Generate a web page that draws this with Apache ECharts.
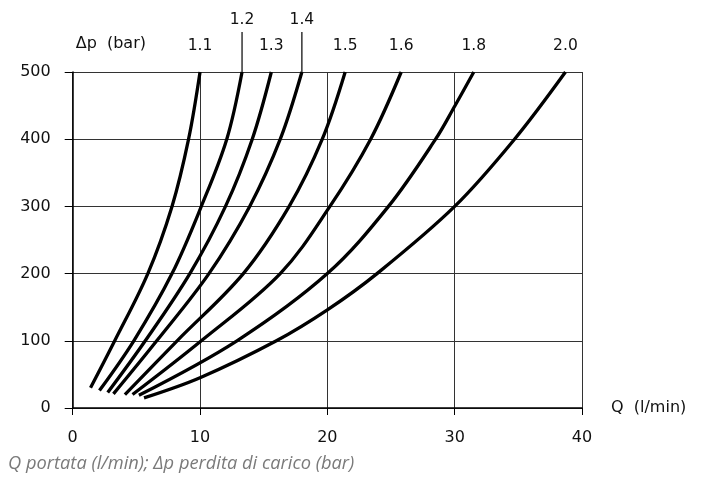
<!DOCTYPE html>
<html>
<head>
<meta charset="utf-8">
<script src="https://cdn.jsdelivr.net/npm/echarts@6/dist/echarts.min.js"></script>
<style>
  html, body { margin: 0; padding: 0; background: #fff; }
  #chart { width: 707px; height: 482px; }
</style>
</head>
<body>
<div id="chart"></div>
<script>
// curve labels (Δp setting, bar)
var pressures = ['1.1', '1.2', '1.3', '1.4', '1.5', '1.6', '1.8', '2.0'];

// [Q (l/min), Δp (bar)]
var curve11 = [[1.4, 30], [3.3, 100], [5.9, 200], [7.8, 300], [9.1, 400], [10.0, 500]];
var curve12 = [[2.1, 26], [4.8, 100], [7.8, 200], [10.1, 300], [12.1, 400], [13.3, 500]];
var curve13 = [[2.75, 23], [5.7, 100], [9.2, 200], [12.0, 300], [14.1, 400], [15.6, 500]];
var curve14 = [[3.2, 21], [6.6, 100], [10.7, 200], [13.9, 300], [16.3, 400], [18.0, 500]];
var curve15 = [[4.1, 20], [8.2, 100], [13.4, 200], [17.0, 300], [19.6, 400], [21.4, 500]];
var curve16 = [[4.7, 20], [10.1, 100], [16.3, 200], [20.2, 300], [23.4, 400], [25.8, 500]];
var curve18 = [[5.2, 19], [12.9, 100], [20.0, 200], [24.8, 300], [28.5, 400], [30.0, 449], [31.5, 500]];
var curve20 = [[5.6, 15], [10.0, 45], [16.0, 100], [20.0, 146], [23.9, 200], [30.0, 300], [34.7, 400], [38.7, 500]];

var curves = [curve11, curve12, curve13, curve14, curve15, curve16, curve18, curve20];
// labels that sit higher with a leader line
var raisedLabels = ['1.2', '1.4'];

var xTicks = [0, 10, 20, 30, 40];
var yTicks = [0, 100, 200, 300, 400, 500];

var font = 'DejaVu Sans';
var myChart = echarts.init(document.getElementById('chart'));

var series = curves.map(function (pts, i) {
    var name = pressures[i];
    var last = pts[pts.length - 1];
    var raised = raisedLabels.indexOf(name) >= 0;
    var h = raised ? 40 : 14;
    return {
        name: name,
        type: 'line',
        data: pts,
        smooth: 0.35,
        showSymbol: false,
        symbol: 'none',
        silent: true,
        lineStyle: { color: '#000', width: 3.3 },
        markPoint: {
            silent: true,
            animation: false,
            symbol: 'rect',
            symbolSize: [1.2, h],
            symbolOffset: [0, -h / 2],
            itemStyle: { color: raised ? '#000' : 'rgba(0,0,0,0)' },
            label: {
                show: true,
                position: 'top',
                distance: 4,
                formatter: name,
                color: '#111',
                fontFamily: font,
                fontSize: 15.5
            },
            data: [{ coord: last }]
        }
    };
});

var option = {
    animation: false,
    backgroundColor: '#fff',
    title: {
        text: 'Q portata (l/min); Δp perdita di carico (bar)',
        left: 3,
        top: 450,
        textStyle: {
            color: '#7a7a7a',
            fontStyle: 'italic',
            fontWeight: 'normal',
            fontFamily: 'Open Sans',
            fontSize: 18.3
        }
    },
    grid: {
        left: 72.7,
        right: 125,
        top: 72,
        bottom: 74
    },
    xAxis: {
        type: 'value',
        min: xTicks[0],
        max: xTicks[xTicks.length - 1],
        interval: 10,
        name: 'Q  (l/min)',
        nameLocation: 'end',
        nameGap: 29,
        nameTextStyle: { color: '#111', fontFamily: font, fontSize: 16, verticalAlign: 'middle', padding: [4, 0, 0, 0] },
        axisLine: { show: true, onZero: false, lineStyle: { color: '#000', width: 1.5 } },
        axisTick: { show: true, length: 7, inside: false, lineStyle: { color: '#000' } },
        axisLabel: { color: '#111', fontFamily: font, fontSize: 16, margin: 22 },
        splitLine: { show: true, lineStyle: { color: '#333', width: 1 } }
    },
    yAxis: {
        type: 'value',
        min: yTicks[0],
        max: yTicks[yTicks.length - 1],
        interval: 100,
        name: 'Δp  (bar)',
        nameLocation: 'end',
        nameGap: 20,
        nameTextStyle: { color: '#111', fontFamily: font, fontSize: 16, align: 'left', padding: [0, 0, 0, 3] },
        axisLine: { show: true, lineStyle: { color: '#000', width: 1.5 } },
        axisTick: { show: true, length: 8, lineStyle: { color: '#000' } },
        axisLabel: { color: '#111', fontFamily: font, fontSize: 16, margin: 22 },
        splitLine: { show: true, lineStyle: { color: '#333', width: 1 } }
    },
    series: series
};

myChart.setOption(option);
</script>
</body>
</html>
